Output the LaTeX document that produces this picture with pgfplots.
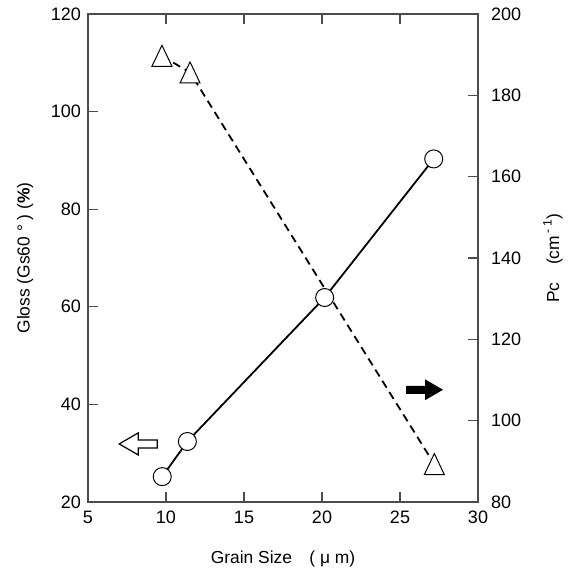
\documentclass[border=0pt]{standalone}
\usepackage{fontspec}
\setmainfont{Liberation Sans}
\usepackage{pgfplots}
\pgfplotsset{compat=1.18}
\pgfdeclareplotmark{tri}{%
 \pgfpathmoveto{\pgfqpoint{0pt}{5.3pt}}%
 \pgfpathlineto{\pgfqpoint{5pt}{-5.2pt}}%
 \pgfpathlineto{\pgfqpoint{-5pt}{-5.2pt}}%
 \pgfpathclose
 \pgfusepathqfillstroke}
\pgfplotsset{
 common/.style={
  width=195pt, height=244pt, scale only axis,
  xmin=5, xmax=30,
  tick align=inside, major tick length=5pt,
  axis line style={line width=0.6pt, gray!60!black},
  every tick/.style={line width=0.6pt, gray!60!black},
  /pgf/number format/assume math mode=true,
  tick label style={font=\fontsize{9}{10}\selectfont},
  label style={font=\fontsize{8.7}{10}\selectfont},
 }
}
\begin{document}
\begin{tikzpicture}
% right axis: Pc
\begin{axis}[common,
  ymin=80, ymax=200,
  axis x line=none, axis y line*=right,
  ytick={80,100,...,200},
  yticklabel style={xshift=3pt},
  ylabel={Pc\quad (cm\,\textsuperscript{-\,1})},
  ylabel style={at={(axis description cs:1,0.5)}, anchor=center, yshift=-37.5pt},
]
\addplot[black, line width=0.9pt, dash pattern=on 4pt off 2.6pt,
  mark=tri, mark options={solid, fill=white, draw=black, line width=0.5pt}]
  coordinates {(9.74,189.7) (11.54,185.6) (27.2,89.3)};
\end{axis}
% left axis: Gloss
\begin{axis}[common,
  ymin=20, ymax=120,
  xtick={5,10,...,30},
  ytick={20,40,...,120},
  xtick pos=both, xticklabel pos=bottom,
  ytick pos=left,
  xticklabel style={yshift=-1pt},
  xlabel={Grain Size\quad ( μ m)},
  xlabel style={at={(axis description cs:0.5,0)}, anchor=base, yshift=-30.5pt},
  ylabel={Gloss (Gs60\ °\ ) (\textbf{\%})},
  ylabel style={at={(axis description cs:0,0.5)}, anchor=center, yshift=31.5pt},
]
\addplot[black, line width=0.9pt,
  mark=*, mark size=4.5pt, mark options={fill=white, draw=black, line width=0.5pt}]
  coordinates {(9.76,25.2) (11.37,32.4) (20.17,61.9) (27.16,90.3)};
\coordinate (la) at (axis cs:7.0,31.9);
\coordinate (ra) at (axis cs:27.76,43.0);
\coordinate (bl) at (rel axis cs:0,0);
\coordinate (tr) at (rel axis cs:1,1);
\end{axis}
\draw[line width=0.6pt, fill=white] (la) -- ++(9.5pt,5.5pt) -- ++(0,-3.5pt)
  -- ++(9.5pt,0) -- ++(0,-4pt) -- ++(-9.5pt,0) -- ++(0,-3.5pt) -- cycle;
\fill[black] (ra) -- ++(-9pt,5.2pt) -- ++(0,-3.2pt) -- ++(-9.5pt,0)
  -- ++(0,-4pt) -- ++(9.5pt,0) -- ++(0,-3.2pt) -- cycle;
\pgfresetboundingbox
\path ([xshift=-44pt,yshift=-34.5pt]bl) rectangle ([xshift=46pt,yshift=7pt]tr);
\end{tikzpicture}
\end{document}
